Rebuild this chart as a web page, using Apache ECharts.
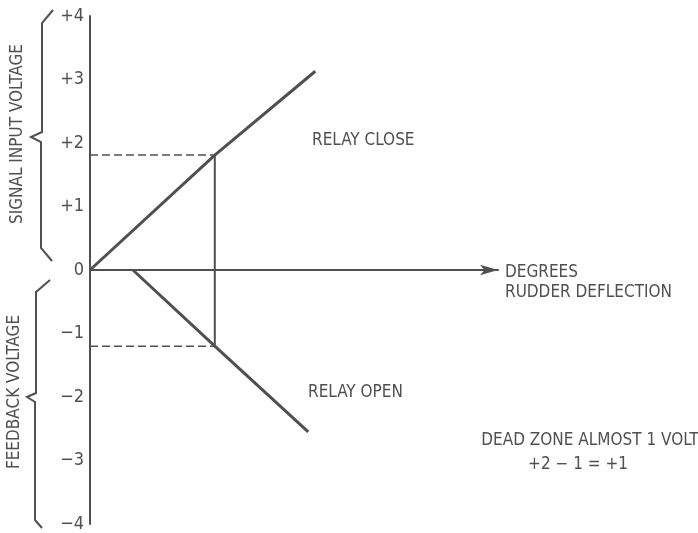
<!DOCTYPE html>
<html>
<head>
<meta charset="utf-8">
<script src="https://cdn.jsdelivr.net/npm/echarts@6/dist/echarts.min.js"></script>
<style>
  html, body { margin: 0; padding: 0; background: #fff; }
  #chart { width: 698px; height: 533px; }
</style>
</head>
<body>
<div id="chart"></div>
<script>
// values (x in arbitrary "degrees" units, y in volts)
const yTicks = [-4, -3, -2, -1, 0, 1, 2, 3, 4];
const relayClose = [[0, 0], [1.95, 1.81], [3.52, 3.13]];
const relayOpen = [[0.67, 0], [1.95, -1.2], [3.41, -2.55]];
const closeLevel = [[0, 1.81], [1.95, 1.81]];
const openLevel = [[0, -1.2], [1.95, -1.2]];
const switchLine = [[1.95, 1.81], [1.95, -1.2]];

const ink = "#505050";
const font = "'Liberation Sans Narrow', 'DejaVu Sans Condensed', sans-serif";

const fmtTick = (v) => (v > 0 ? "+" + v : v < 0 ? "\u2212" + -v : "0");

const lineSeries = (data, width, type) => ({
  type: "line",
  data: data,
  symbol: "none",
  silent: true,
  lineStyle: { color: ink, width: width, type: type || "solid" },
});

const brace = (pts) => ({
  type: "polyline",
  shape: { points: pts },
  style: { stroke: ink, lineWidth: 2, fill: null },
  silent: true,
});

const label = (text, x, y, extra, rot) => ({
  type: "text",
  x: x,
  y: y,
  rotation: rot || 0,
  style: Object.assign(
    { text: text, fill: ink, font: "17px " + font },
    extra || {}
  ),
  silent: true,
});

var myChart = echarts.init(document.getElementById("chart"));

myChart.setOption({
  backgroundColor: "#fff",
  animation: false,
  grid: { left: 90, right: 200, top: 16, bottom: 5 },
  xAxis: {
    type: "value",
    min: 0,
    max: 6.375,
    axisLine: {
      show: true,
      onZero: true,
      symbol: ["none", "arrow"],
      symbolSize: [8, 18],
      lineStyle: { color: ink, width: 2 },
    },
    axisTick: { show: false },
    axisLabel: { show: false },
    splitLine: { show: false },
  },
  yAxis: {
    type: "value",
    min: yTicks[0],
    max: yTicks[yTicks.length - 1],
    interval: 1,
    axisLine: { show: true, onZero: false, lineStyle: { color: ink, width: 2 } },
    axisTick: { show: false },
    splitLine: { show: false },
    axisLabel: {
      margin: 6,
      color: ink,
      fontSize: 18,
      fontFamily: font,
      formatter: fmtTick,
    },
  },
  series: [
    lineSeries(relayClose, 3),
    lineSeries(relayOpen, 3),
    lineSeries(closeLevel, 1.5, [8, 4]),
    lineSeries(openLevel, 1.5, [8, 4]),
    lineSeries(switchLine, 2),
  ],
  graphic: [
    brace([[53, 10], [42, 23], [42, 132], [31, 137], [41, 142], [41, 248], [52, 261]]),
    brace([[50, 280], [36, 292], [36, 393], [27, 397], [35, 402], [35, 520], [42, 528]]),
    label("SIGNAL INPUT VOLTAGE", 18, 134, { align: "center", verticalAlign: "middle" }, Math.PI / 2),
    label("FEEDBACK VOLTAGE", 15, 392, { align: "center", verticalAlign: "middle" }, Math.PI / 2),
    label("RELAY CLOSE", 312, 132),
    label("RELAY OPEN", 308, 384),
    label("DEGREES", 505, 264),
    label("RUDDER DEFLECTION", 505, 284),
    label("DEAD ZONE ALMOST 1 VOLT", 590, 432, { align: "center" }),
    label("+2 \u2212 1 = +1", 578, 456, { align: "center" }),
  ],
});
</script>
</body>
</html>
